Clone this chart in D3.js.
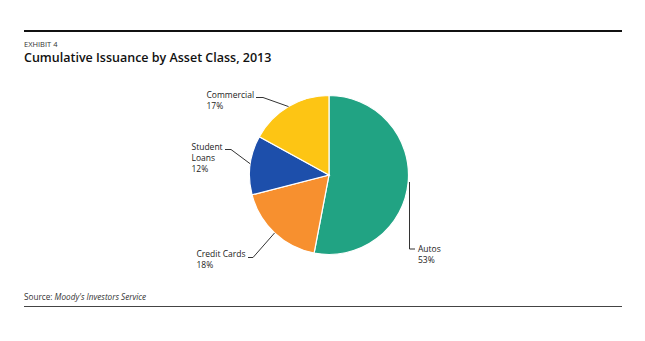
<!DOCTYPE html>
<html>
<head>
<meta charset="utf-8">
<script src="https://cdn.jsdelivr.net/npm/d3@7"></script>
<style>
  html, body { margin: 0; padding: 0; background: #fff; }
  svg { display: block; }
  text { font-family: "Open Sans", "Noto Sans", sans-serif; fill: #222; }
</style>
</head>
<body>
<svg id="chart" width="645" height="341"></svg>
<script>
// Issuance share by asset class (percent)
const categories = ["Autos", "Credit Cards", "Student Loans", "Commercial"];
const shares = [53, 18, 12, 17];
const labelLines = [["Autos"], ["Credit Cards"], ["Student", "Loans"], ["Commercial"]];
const colors = ["#21a383", "#f7902f", "#1d4fab", "#fdc514"];

const svg = d3.select("#chart");

// Header rule, exhibit tag and title
svg.append("line").attr("x1", 24).attr("x2", 622).attr("y1", 31).attr("y2", 31)
  .attr("stroke", "#111").attr("stroke-width", 2);
svg.append("text").attr("x", 24).attr("y", 46.5)
  .style("font-size", "7.5px").style("fill", "#333").text("EXHIBIT 4");
svg.append("text").attr("x", 24).attr("y", 61.5)
  .style("font-size", "12.5px").style("font-weight", 600).style("fill", "#111")
  .text("Cumulative Issuance by Asset Class, 2013");

// Pie
const cx = 329, cy = 175, r = 79.5;
const data = categories.map((c, i) => ({ name: c, value: shares[i], lines: labelLines[i], color: colors[i] }));
const pie = d3.pie().sort(null).value(d => d.value);
const arcs = pie(data);
const arc = d3.arc().innerRadius(0).outerRadius(r);

const g = svg.append("g").attr("transform", `translate(${cx},${cy})`);
g.selectAll("path").data(arcs).join("path")
  .attr("d", arc)
  .attr("fill", d => d.data.color)
  .attr("stroke", "#fff").attr("stroke-width", 1.2);

// Point on the rim at a given fraction of the slice
function rim(d, t) {
  const a = d.startAngle + (d.endAngle - d.startAngle) * t;
  return [cx + r * Math.sin(a), cy - r * Math.cos(a)];
}

// Leader lines and labels, placed per slice
const layout = {
  "Autos":         { t: 0.20, pts: p => [p, [409.5, 249], [415, 249]], tx: 418, ty: 251.5 },
  "Credit Cards":  { t: 0.50, pts: p => [p, [253, 257.5], [248, 257.5]], tx: 196.5, ty: 256.5 },
  "Student Loans": { t: 0.52, pts: p => [p, [231, 149.5], [225, 149.5]], tx: 191.5, ty: 149.5 },
  "Commercial":    { t: 0.50, pts: p => [p, [263, 97.5], [256, 97.5]], tx: 206.5, ty: 98 }
};

arcs.forEach(d => {
  const L = layout[d.data.name];
  let p = rim(d, L.t);
  if (d.data.name === "Autos") p = [409.5, 182];
  svg.append("path")
    .attr("d", d3.line()(L.pts(p)))
    .attr("fill", "none").attr("stroke", "#333").attr("stroke-width", 1);
  const txt = svg.append("text").attr("x", L.tx).attr("y", L.ty)
    .style("font-size", "8.5px");
  const lines = d.data.lines.concat([d.data.value + "%"]);
  lines.forEach((s, i) => {
    txt.append("tspan").attr("x", L.tx).attr("dy", i === 0 ? 0 : 11.3).text(s);
  });
});

// Footer source and rule
const src = svg.append("text").attr("x", 24).attr("y", 300)
  .style("font-size", "8.2px").style("fill", "#333");
src.append("tspan").text("Source: ");
src.append("tspan").style("font-style", "italic").text("Moody's Investors Service");
svg.append("line").attr("x1", 24).attr("x2", 622).attr("y1", 306.5).attr("y2", 306.5)
  .attr("stroke", "#444").attr("stroke-width", 1.2);
</script>
</body>
</html>
